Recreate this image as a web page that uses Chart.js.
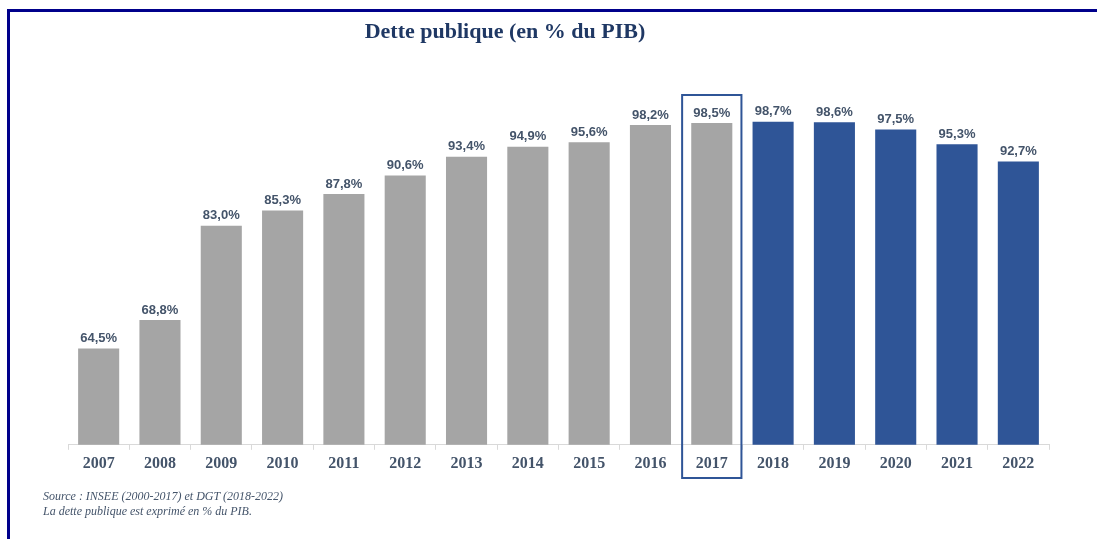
<!DOCTYPE html>
<html>
<head>
<meta charset="utf-8">
<script src="https://cdn.jsdelivr.net/npm/chart.js@4/dist/chart.umd.min.js"></script>
<style>
  body { margin: 0; background: #fff; }
  #wrap { position: relative; width: 1097px; height: 539px; overflow: hidden; }
  #frame { position: absolute; left: 7px; top: 9px; width: 1200px; height: 600px;
           border-top: 3px solid #00008b; border-left: 3px solid #00008b; }
  #title { position: absolute; left: 305px; width: 400px; top: 18px; text-align: center;
           font: bold 22px "Liberation Serif", serif; color: #1f3864; }
  #note { position: absolute; left: 43px; top: 489px; font: italic 12px/15px "Liberation Serif", serif;
          color: #44546a; }
  canvas { position: absolute; left: 0; top: 0; }
</style>
</head>
<body>
<div id="wrap">
  <canvas id="chart" width="1097" height="539"></canvas>
  <div id="frame"></div>
  <div id="title">Dette publique (en % du PIB)</div>
  <div id="note">Source : INSEE (2000-2017) et DGT (2018-2022)<br>La dette publique est exprimé en % du PIB.</div>
</div>
<script>
// Data
const years = ['2007', '2008', '2009', '2010', '2011', '2012', '2013', '2014',
               '2015', '2016', '2017', '2018', '2019', '2020', '2021', '2022'];
const debtRatio = [64.5, 68.8, 83.0, 85.3, 87.8, 90.6, 93.4, 94.9,
                   95.6, 98.2, 98.5, 98.7, 98.6, 97.5, 95.3, 92.7];
const forecastFrom = '2018';
const highlightYear = '2017';

const greyBar = '#a5a5a5';
const blueBar = '#2f5597';
const labelColor = '#44546a';

const barColors = years.map(y => (y >= forecastFrom ? blueBar : greyBar));

// Value labels above each bar
const valueLabels = {
    id: 'valueLabels',
    afterDatasetsDraw(chart) {
        const ctx = chart.ctx;
        const meta = chart.getDatasetMeta(0);
        ctx.save();
        ctx.font = 'bold 13px "Liberation Sans", sans-serif';
        ctx.fillStyle = labelColor;
        ctx.textAlign = 'center';
        ctx.textBaseline = 'middle';
        meta.data.forEach((bar, i) => {
            const txt = debtRatio[i].toFixed(1).replace('.', ',') + '%';
            ctx.fillText(txt, bar.x, bar.y - 10);
        });
        ctx.restore();
    }
};

// Outline around the highlighted year
const highlightBox = {
    id: 'highlightBox',
    afterDraw(chart) {
        const x = chart.scales.x;
        const idx = years.indexOf(highlightYear);
        const step = (x.right - x.left) / years.length;
        const cx = x.getPixelForValue(idx);
        const ctx = chart.ctx;
        ctx.save();
        ctx.strokeStyle = blueBar;
        ctx.lineWidth = 2;
        ctx.strokeRect(cx - step / 2 + 1, 95, step - 2, 383);
        ctx.restore();
    }
};

new Chart(document.getElementById('chart'), {
    type: 'bar',
    data: {
        labels: years,
        datasets: [{
            data: debtRatio,
            backgroundColor: barColors,
            barPercentage: 0.67,
            categoryPercentage: 1.0
        }]
    },
    options: {
        responsive: false,
        animation: false,
        layout: { padding: { left: 68, right: 48, top: 113, bottom: 62 } },
        plugins: {
            legend: { display: false },
            tooltip: { enabled: false }
        },
        scales: {
            y: {
                display: false,
                min: 50,
                max: 100
            },
            x: {
                grid: {
                    drawOnChartArea: false,
                    tickLength: 5,
                    color: '#d9d9d9'
                },
                border: { color: '#d9d9d9' },
                ticks: {
                    color: labelColor,
                    padding: 4,
                    font: { family: '"Liberation Serif", serif', size: 16, weight: 'bold' }
                }
            }
        }
    },
    plugins: [valueLabels, highlightBox]
});
</script>
</body>
</html>
